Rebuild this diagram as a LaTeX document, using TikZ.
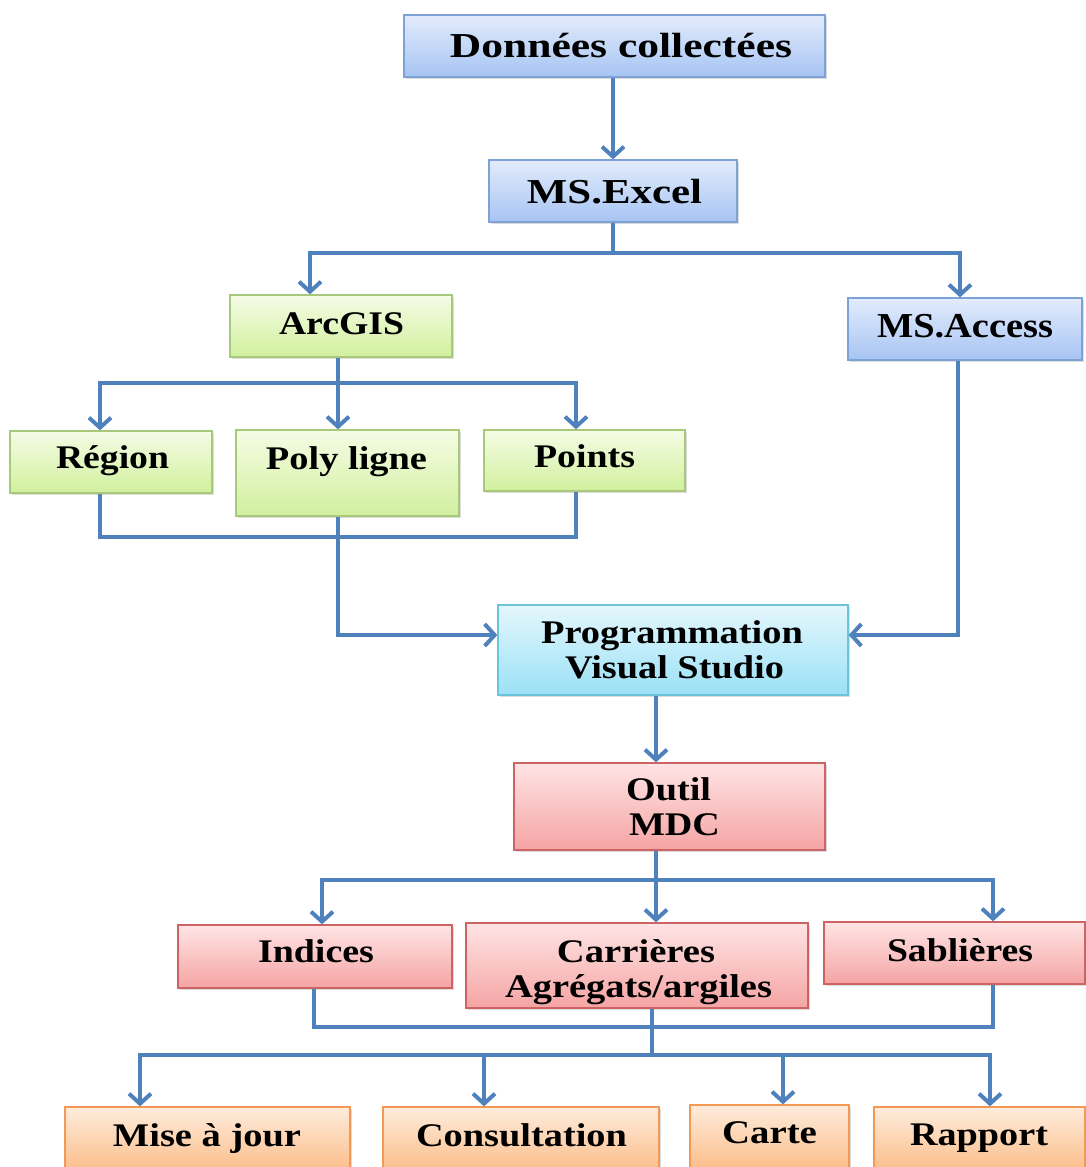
\documentclass[tikz,border=0pt]{standalone}
\usepackage{graphicx}
\usepackage{fontspec}
\setmainfont{Liberation Serif}
\usetikzlibrary{arrows.meta,shadows}
\definecolor{linec}{HTML}{4F81BD}
\definecolor{bluetop}{HTML}{E3ECFC}
\definecolor{bluebot}{HTML}{A6C4F3}
\definecolor{bluebd}{HTML}{7EA2D6}
\definecolor{greentop}{HTML}{F5FCE5}
\definecolor{greenbot}{HTML}{D1F09E}
\definecolor{greenbd}{HTML}{A9C97A}
\definecolor{cyantop}{HTML}{E4F7FD}
\definecolor{cyanbot}{HTML}{9BE1F6}
\definecolor{cyanbd}{HTML}{6CC4DC}
\definecolor{redtop}{HTML}{FFE4E4}
\definecolor{redbot}{HTML}{F5A4A4}
\definecolor{redbd}{HTML}{CC6464}
\definecolor{orgtop}{HTML}{FEECDD}
\definecolor{orgbot}{HTML}{FBBE8A}
\definecolor{orgbd}{HTML}{F29A55}
\newcommand\sw[2]{\resizebox{#1pt}{\height}{#2}}
\tikzset{
  box/.style={draw, line width=1.3pt, inner sep=0pt, shading angle=0,
    drop shadow={opacity=0.28, shadow xshift=1.5pt, shadow yshift=-2pt}},
  bluebox/.style={box, draw=bluebd, top color=bluetop, bottom color=bluebot},
  greenbox/.style={box, draw=greenbd, top color=greentop, bottom color=greenbot},
  cyanbox/.style={box, draw=cyanbd, top color=cyantop, bottom color=cyanbot},
  redbox/.style={box, draw=redbd, top color=redtop, bottom color=redbot},
  orgbox/.style={box, draw=orgbd, top color=orgtop, bottom color=orgbot},
  lbl/.style={inner sep=0pt, anchor=base, font=\bfseries\fontsize{33}{35}\selectfont},
  biglbl/.style={lbl, font=\bfseries\fontsize{35}{37}\selectfont},
  conn/.style={draw=linec, line width=4pt, line join=miter},
  arr/.style={conn, -{Straight Barb[length=10pt,width=22pt]}}
}
\begin{document}
\begin{tikzpicture}[x=1pt,y=-1pt]
\useasboundingbox (0,0) rectangle (1086,1167);
\clip (0,0) rectangle (1086,1167);
% boxes
\node[bluebox, minimum width=421pt, minimum height=62pt] (donnees) at (614.5,46) {};
\node[bluebox, minimum width=248pt, minimum height=62pt] (excel) at (613,191) {};
\node[greenbox, minimum width=222pt, minimum height=62pt] (arcgis) at (341,326) {};
\node[bluebox, minimum width=234pt, minimum height=62pt] (access) at (965,329) {};
\node[greenbox, minimum width=202pt, minimum height=62pt] (region) at (111,462) {};
\node[greenbox, minimum width=223pt, minimum height=86pt] (poly) at (347.5,473) {};
\node[greenbox, minimum width=201pt, minimum height=61pt] (points) at (584.5,460.5) {};
\node[cyanbox, minimum width=350pt, minimum height=90pt] (prog) at (673,650) {};
\node[redbox, minimum width=311pt, minimum height=87pt] (outil) at (669.5,806.5) {};
\node[redbox, minimum width=274pt, minimum height=63pt] (indices) at (315,956.5) {};
\node[redbox, minimum width=342pt, minimum height=85pt] (carr) at (637,965.5) {};
\node[redbox, minimum width=261pt, minimum height=62pt] (sabl) at (954.5,953) {};
\node[orgbox, minimum width=285pt, minimum height=63pt] (mise) at (207.5,1138.5) {};
\node[orgbox, minimum width=276pt, minimum height=63pt] (cons) at (521,1138.5) {};
\node[orgbox, minimum width=159pt, minimum height=63pt] (carte) at (769.5,1136.5) {};
\node[orgbox, minimum width=211pt, minimum height=63pt] (rapport) at (979.5,1138.5) {};
% texts
\node[biglbl] (tdonnees) at (621,57) {\sw{342}{Données collectées}};
\node[biglbl] (texcel) at (614.5,203) {\sw{175}{MS.Excel}};
\node[lbl] (tarcgis) at (341.5,334) {\sw{125}{ArcGIS}};
\node[biglbl] (taccess) at (965,337) {\sw{176}{MS.Access}};
\node[lbl] (tregion) at (112.5,468) {\sw{113}{Région}};
\node[lbl] (tpoly) at (346.5,469) {\sw{161}{Poly ligne}};
\node[lbl] (tpoints) at (584.5,467) {\sw{101}{Points}};
\node[lbl] (tprog1) at (672,643) {\sw{262}{Programmation}};
\node[lbl] (tprog2) at (674.5,678) {\sw{219}{Visual Studio}};
\node[lbl] (toutil1) at (668.5,800) {\sw{85}{Outil}};
\node[lbl] (toutil2) at (674.5,835) {\sw{91}{MDC}};
\node[lbl] (tindices) at (316,962) {\sw{116}{Indices}};
\node[lbl] (tcarr1) at (636,962) {\sw{158}{Carrières}};
\node[lbl] (tcarr2) at (638.5,997) {\sw{267}{Agrégats/argiles}};
\node[lbl] (tsabl) at (960,961) {\sw{146}{Sablières}};
\node[lbl] (tmise) at (207,1146) {\sw{188}{Mise à jour}};
\node[lbl] (tcons) at (521.5,1146) {\sw{211}{Consultation}};
\node[lbl] (tcarte) at (769.5,1143) {\sw{95}{Carte}};
\node[lbl] (trapport) at (979,1145) {\sw{138}{Rapport}};
% connectors
\draw[arr] ([xshift=-1.5pt]donnees.south) -- (excel.north);
\coordinate (e1) at (613,253);
\draw[conn] (excel.south) -- (e1);
\draw[arr] (e1) -| ([xshift=-31pt]arcgis.north);
\draw[arr] (e1) -| ([xshift=-5pt]access.north);
\coordinate (a1) at (338,383);
\draw[conn] ([xshift=-3pt]arcgis.south) -- (a1);
\draw[arr] (a1) -| ([xshift=-11pt]region.north);
\draw[arr] (a1) -- ([xshift=-9.5pt]poly.north);
\draw[arr] (a1) -| ([xshift=-8.5pt]points.north);
\coordinate (b1) at (338,537);
\draw[conn] ([xshift=-11pt]region.south) |- (b1);
\draw[conn] ([xshift=-8.5pt]points.south) |- (b1);
\draw[arr] ([xshift=-9.5pt]poly.south) |- ([yshift=15pt]prog.west);
\draw[arr] ([xshift=-7pt]access.south) |- ([yshift=15pt]prog.east);
\draw[arr] ([xshift=-17pt]prog.south) -- ([xshift=-13.5pt]outil.north);
\coordinate (o1) at (656,880);
\draw[conn] ([xshift=-13.5pt]outil.south) -- (o1);
\draw[arr] (o1) -| ([xshift=7pt]indices.north);
\draw[arr] (o1) -- ([xshift=19pt]carr.north);
\draw[arr] (o1) -| ([xshift=38.5pt]sabl.north);
\coordinate (c1) at (652,1027);
\draw[conn] ([xshift=-1pt]indices.south) |- (c1);
\draw[conn] ([xshift=38.5pt]sabl.south) |- (c1);
\coordinate (c2) at (652,1055);
\draw[conn] ([xshift=15pt]carr.south) -- (c2);
\draw[arr] (c2) -| ([xshift=-67.5pt]mise.north);
\draw[arr] (c2) -| ([xshift=-37pt]cons.north);
\draw[arr] (c2) -| ([xshift=13.5pt]carte.north);
\draw[arr] (c2) -| ([xshift=10.5pt]rapport.north);
\end{tikzpicture}
\end{document}
